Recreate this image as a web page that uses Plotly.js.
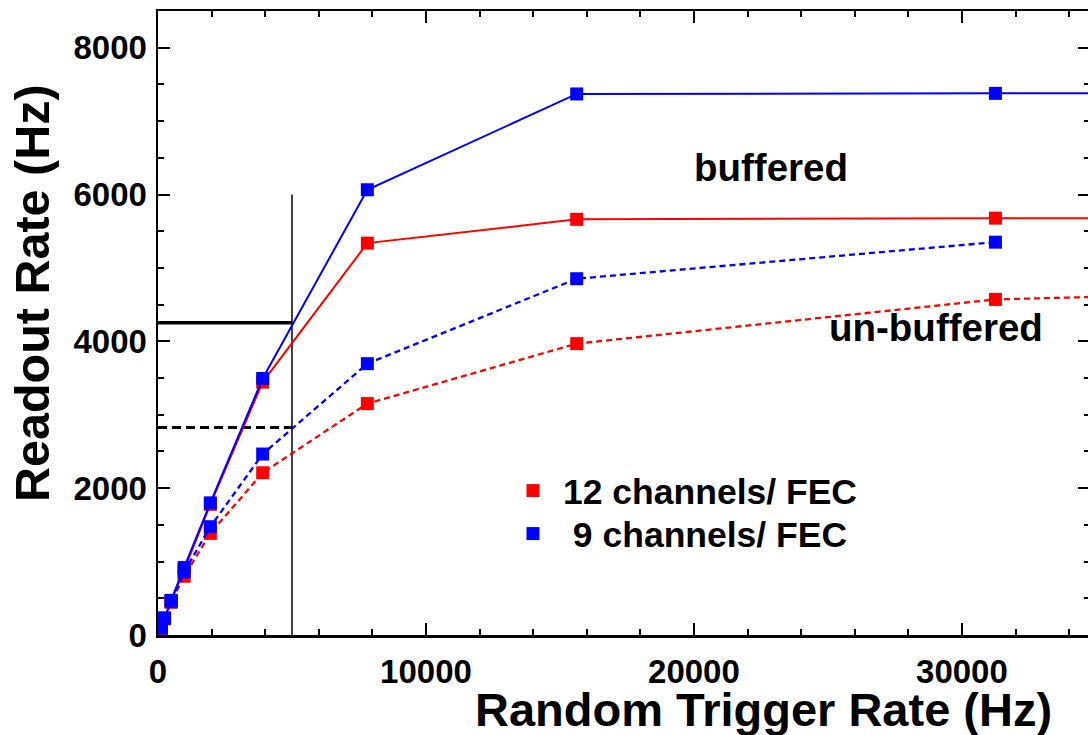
<!DOCTYPE html>
<html>
<head>
<meta charset="utf-8">
<script src="https://cdn.plot.ly/plotly-3.0.1.min.js"></script>
<style>
  html, body { margin: 0; padding: 0; overflow: hidden; background: #fff; }
  #chart { width: 1092px; height: 735px; }
</style>
</head>
<body>
<div id="chart"></div>
<script>
// Random trigger rate (Hz)
const triggerRate = [122.07, 244.14, 488.28, 976.56, 1953.1, 3906.25, 7812.5, 15625, 31250, 62500];
const triggerRateUnbuf9 = [122.07, 244.14, 488.28, 976.56, 1953.1, 3906.25, 7812.5, 15625, 31250];

// Readout rate (Hz)
const buffered12 = [95, 228, 465, 885, 1780, 3445, 5338, 5662, 5678, 5680];
const buffered9 = [100, 232, 472, 920, 1800, 3495, 6065, 7370, 7378, 7380];
const unbuffered12 = [92, 220, 445, 800, 1385, 2210, 3152, 3969, 4571, 4860];
const unbuffered9 = [95, 226, 460, 860, 1475, 2465, 3696, 4853, 5351];

// Reference lines
const refVertX = [5000, 5000];
const refVertY = [0, 6000];
const refHorizX = [0, 5000];
const refSolidY = [4254, 4254];
const refDashY = [2826, 2826];

// Legend labels
const legendLabels = ['12 channels/ FEC', '\u00A09 channels/ FEC'];

const RED = '#ff0000';
const BLUE = '#0000ff';
const FONT = 'Liberation Sans, Arial, Helvetica, sans-serif';

const traces = [
  { x: refVertX, y: refVertY, mode: 'lines', line: { color: '#000', width: 1.5 }, showlegend: false, hoverinfo: 'skip' },
  { x: refHorizX, y: refSolidY, mode: 'lines', line: { color: '#000', width: 3.5 }, showlegend: false, hoverinfo: 'skip' },
  { x: refHorizX, y: refDashY, mode: 'lines', line: { color: '#000', width: 3, dash: '9px,5px' }, showlegend: false, hoverinfo: 'skip' },
  { x: triggerRate, y: unbuffered12, mode: 'lines+markers', line: { color: RED, width: 2.3, dash: '6px,4px' },
    marker: { symbol: 'square', size: 13, color: RED }, showlegend: false },
  { x: triggerRate, y: buffered12, mode: 'lines+markers', line: { color: RED, width: 2 },
    marker: { symbol: 'square', size: 13, color: RED }, showlegend: false },
  { x: triggerRateUnbuf9, y: unbuffered9, mode: 'lines+markers', line: { color: BLUE, width: 2.3, dash: '6px,4px' },
    marker: { symbol: 'square', size: 13, color: BLUE }, showlegend: false },
  { x: triggerRate, y: buffered9, mode: 'lines+markers', line: { color: BLUE, width: 2 },
    marker: { symbol: 'square', size: 13, color: BLUE }, showlegend: false },
  { x: [null], y: [null], mode: 'markers', marker: { symbol: 'square', size: 13, color: RED },
    name: legendLabels[0], showlegend: true, legend: 'legend' },
  { x: [null], y: [null], mode: 'markers', marker: { symbol: 'square', size: 13, color: BLUE },
    name: legendLabels[1], showlegend: true, legend: 'legend2' }
];

const axisCommon = {
  showgrid: false,
  zeroline: false,
  showline: true,
  linecolor: '#000',
  linewidth: 2.5,
  mirror: 'allticks',
  ticks: 'inside',
  ticklen: 12,
  tickwidth: 2,
  tickcolor: '#000',
  tickfont: { family: FONT, size: 33, color: '#000', weight: 'bold' }
};

const legendCommon = {
  xanchor: 'left', yanchor: 'top',
  bgcolor: 'rgba(0,0,0,0)',
  itemwidth: 50,
  font: { family: FONT, size: 35.5, color: '#000', weight: 'bold' }
};

const layout = {
  width: 1092,
  height: 735,
  margin: { l: 158, r: 2, t: 11, b: 100 },
  paper_bgcolor: '#fff',
  plot_bgcolor: '#fff',
  xaxis: Object.assign({}, axisCommon, {
    range: [0, 34780],
    dtick: 10000,
    tick0: 0,
    tickformat: 'd',
    ticklabelstandoff: 6,
    minor: { dtick: 2000, ticks: 'inside', ticklen: 6, tickwidth: 2, tickcolor: '#000' }
  }),
  yaxis: Object.assign({}, axisCommon, {
    range: [0, 8500],
    dtick: 2000,
    tick0: 0,
    tickformat: 'd',
    ticklabelstandoff: 2,
    minor: { dtick: 500, ticks: 'inside', ticklen: 6, tickwidth: 2, tickcolor: '#000' }
  }),
  showlegend: true,
  legend: Object.assign({}, legendCommon, { x: (503 - 158) / 932, y: (635 - 461) / 624 }),
  legend2: Object.assign({}, legendCommon, { x: (503 - 158) / 932, y: (635 - 504) / 624 }),
  annotations: [
    { text: 'Random Trigger Rate (Hz)', xref: 'paper', yref: 'paper', x: 0.961, y: -0.12,
      xanchor: 'right', yanchor: 'middle', showarrow: false,
      font: { family: FONT, size: 47, color: '#000', weight: 'bold' } },
    { text: 'Readout Rate (Hz)', xref: 'paper', yref: 'paper', x: -0.1345, y: 0.5475,
      xanchor: 'center', yanchor: 'middle', textangle: -90, showarrow: false,
      font: { family: FONT, size: 48.5, color: '#000', weight: 'bold' } },
    { text: 'buffered', xref: 'paper', yref: 'paper', x: 0.6577, y: (635 - 167) / 624,
      xanchor: 'center', yanchor: 'middle', showarrow: false,
      font: { family: FONT, size: 38.5, color: '#000', weight: 'bold' } },
    { text: 'un-buffered', xref: 'paper', yref: 'paper', x: (936 - 158) / 932, y: (635 - 327) / 624,
      xanchor: 'center', yanchor: 'middle', showarrow: false,
      font: { family: FONT, size: 38.5, color: '#000', weight: 'bold' } }
  ]
};

Plotly.newPlot('chart', traces, layout, { displayModeBar: false, staticPlot: true });
</script>
</body>
</html>
